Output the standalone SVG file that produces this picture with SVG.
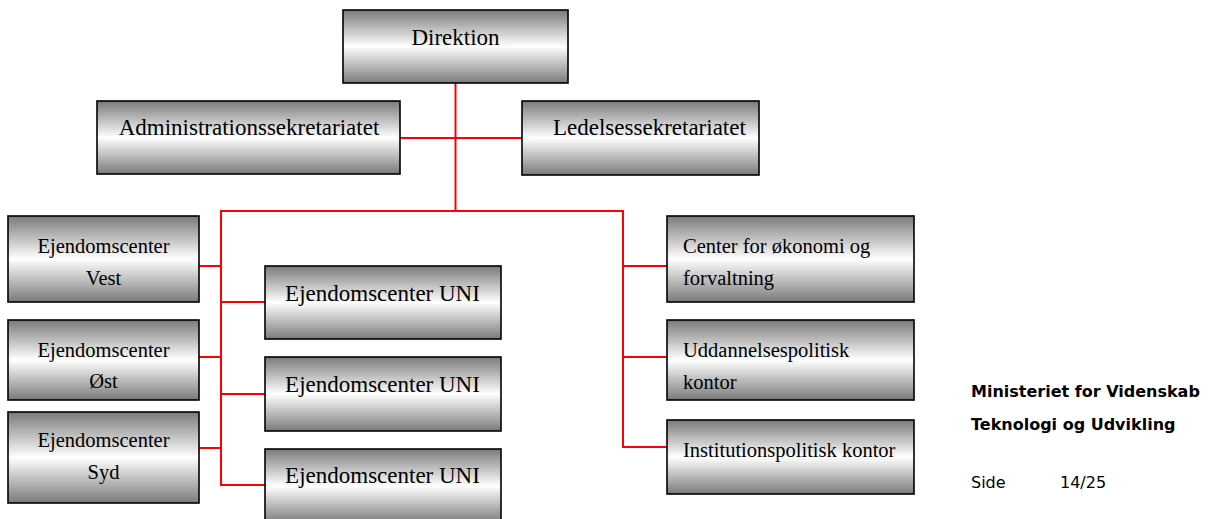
<svg xmlns="http://www.w3.org/2000/svg" width="1210" height="519" viewBox="0 0 1210 519">
<defs>
<linearGradient id="g" x1="0" y1="0" x2="0" y2="1">
<stop offset="0" stop-color="#7a7a7a"/>
<stop offset="0.5" stop-color="#ffffff"/>
<stop offset="1" stop-color="#7a7a7a"/>
</linearGradient>
</defs>
<style>
.box{fill:url(#g);stroke:#000;stroke-width:1.6}
.t{font-family:"Liberation Serif","Times New Roman",serif;fill:#000}
.big{font-size:23px}
.sm{font-size:20.5px}
.c{text-anchor:middle}
.con line{stroke:#ff0000;stroke-width:2}
.ft{font-family:"DejaVu Sans",Verdana,sans-serif;font-size:16px;fill:#000}
.b{font-weight:bold}
</style>
<rect width="1210" height="519" fill="#fff"/>
<g id="connectors" class="con">
<line x1="455.5" y1="83" x2="455.5" y2="211"/>
<line x1="400" y1="138" x2="522" y2="138"/>
<line x1="220" y1="211" x2="624" y2="211"/>
<line x1="221" y1="210" x2="221" y2="486"/>
<line x1="199" y1="266" x2="221" y2="266"/>
<line x1="199" y1="357" x2="221" y2="357"/>
<line x1="199" y1="448" x2="221" y2="448"/>
<line x1="221" y1="302" x2="265" y2="302"/>
<line x1="221" y1="394" x2="265" y2="394"/>
<line x1="220" y1="485" x2="265" y2="485"/>
<line x1="623" y1="210" x2="623" y2="448"/>
<line x1="623" y1="266" x2="667" y2="266"/>
<line x1="623" y1="357" x2="667" y2="357"/>
<line x1="622" y1="447" x2="667" y2="447"/>
</g>
<g id="direktion">
<rect class="box" x="343" y="10" width="225" height="73"/>
<text class="t big c" x="455.5" y="45">Direktion</text>
</g>
<g id="admin">
<rect class="box" x="97" y="101" width="303" height="73"/>
<text class="t big c" x="249" y="135">Administrationssekretariatet</text>
</g>
<g id="ledelse">
<rect class="box" x="522" y="101" width="237" height="74"/>
<text class="t big" x="553" y="135">Ledelsessekretariatet</text>
</g>
<g id="vest">
<rect class="box" x="8" y="216" width="191" height="86"/>
<text class="t sm c" x="103.5" y="253">Ejendomscenter</text>
<text class="t sm c" x="103.5" y="285">Vest</text>
</g>
<g id="oest">
<rect class="box" x="8" y="320" width="191" height="80"/>
<text class="t sm c" x="103.5" y="357">Ejendomscenter</text>
<text class="t sm c" x="103.5" y="388">Øst</text>
</g>
<g id="syd">
<rect class="box" x="8" y="412" width="191" height="91"/>
<text class="t sm c" x="103.5" y="447">Ejendomscenter</text>
<text class="t sm c" x="103.5" y="479">Syd</text>
</g>
<g id="uni1">
<rect class="box" x="265" y="266" width="236" height="73"/>
<text class="t big c" x="382.5" y="301">Ejendomscenter UNI</text>
</g>
<g id="uni2">
<rect class="box" x="265" y="357" width="236" height="74"/>
<text class="t big c" x="382.5" y="392">Ejendomscenter UNI</text>
</g>
<g id="uni3">
<rect class="box" x="265" y="449" width="236" height="74"/>
<text class="t big c" x="382.5" y="483">Ejendomscenter UNI</text>
</g>
<g id="oekonomi">
<rect class="box" x="667" y="216" width="247" height="86"/>
<text class="t sm" x="683" y="253">Center for økonomi og</text>
<text class="t sm" x="683" y="285">forvaltning</text>
</g>
<g id="uddannelse">
<rect class="box" x="667" y="320" width="247" height="80"/>
<text class="t sm" x="683" y="357">Uddannelsespolitisk</text>
<text class="t sm" x="683" y="389">kontor</text>
</g>
<g id="institution">
<rect class="box" x="667" y="420" width="247" height="74"/>
<text class="t sm" x="683" y="457">Institutionspolitisk kontor</text>
</g>
<g id="footer">
<text class="ft b" x="971" y="397">Ministeriet for Videnskab</text>
<text class="ft b" x="971" y="430">Teknologi og Udvikling</text>
<text class="ft" x="971" y="488">Side</text>
<text class="ft" x="1060" y="488">14/25</text>
</g>
</svg>
